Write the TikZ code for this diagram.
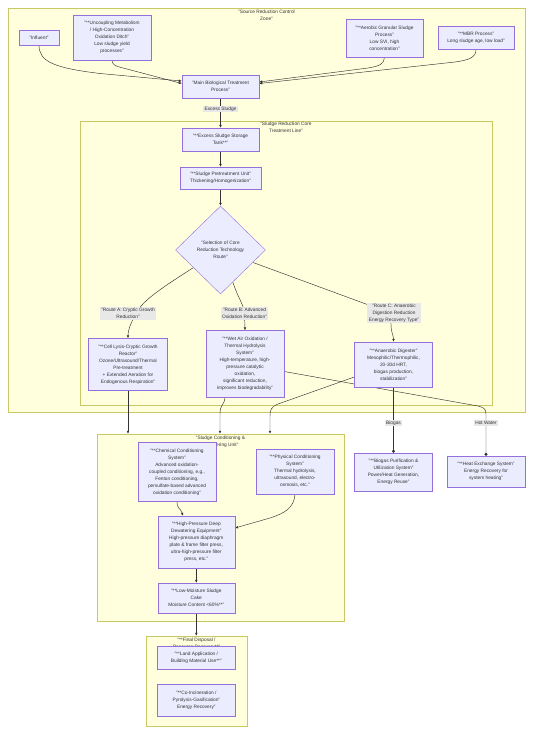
\documentclass[tikz,border=0pt]{standalone}
\usepackage{fontspec}
\setmainfont{Liberation Sans}
\usetikzlibrary{shapes.geometric,arrows.meta}
\definecolor{zfill}{HTML}{FFFFDE}
\definecolor{zdraw}{HTML}{C8C866}
\definecolor{nfill}{HTML}{ECECFF}
\definecolor{ndraw}{HTML}{9370DB}
\definecolor{ink}{HTML}{333333}
\definecolor{lbg}{HTML}{E8E8E8}
\pgfdeclarelayer{bg}
\pgfdeclarelayer{edges}
\pgfsetlayers{bg,edges,main}
\begin{document}
\begin{tikzpicture}[x=1pt,y=-1pt,
  every node/.style={font=\fontsize{4.8}{7}\selectfont, text=ink, align=center, inner sep=0pt},
  zone/.style 2 args={draw=zdraw, fill=zfill, line width=0.45pt, minimum width=#1pt, minimum height=#2pt},
  bx/.style 2 args={draw=ndraw, fill=nfill, line width=0.4pt, minimum width=#1pt, minimum height=#2pt},
  lbl/.style={fill=lbg, inner xsep=1.5pt, inner ysep=1pt},
  conn/.style={draw=ink, line width=0.45pt},
  arr/.style={conn, -{Latex[length=3pt,width=2.6pt]}},
  dotend/.style={conn, -{Circle[length=3pt]}},
]
\useasboundingbox (0,0) rectangle (533,734);

\begin{pgfonlayer}{bg}
\fill[white] (0,0) rectangle (533,734);
\node[zone={517}{404}] (z1) at (266.5,210) {};
\node[zone={412}{284}] (z2) at (286,263) {};
\node[zone={247}{187}] (z3) at (220.5,527.5) {};
\node[zone={101}{90}] (z4) at (196.5,681) {};
\end{pgfonlayer}

% zone titles
\node (t1) at (266.5,15.5) {"Source Reduction Control\\Zone"};
\node (t2) at (286,127.5) {"Sludge Reduction Core\\Treatment Line"};
\node (t3) at (220.5,441.5) {"Sludge Conditioning \&\\Dewatering Unit"};
\node (t4) at (196.5,643.5) {"**Final Disposal /\\Resource Recovery**"};

% nodes
\node[bx={40}{15}] (inf) at (39,37.5) {"Influent"};
\node[bx={78}{45}] (unc) at (112,37.5) {"**Uncoupling Metabolism\\/ High-Concentration\\Oxidation Ditch"\\Low sludge yield\\processes"};
\node[bx={77}{38}] (agr) at (384.5,38) {"**Aerobic Granular Sludge\\Process"\\Low SVI, high\\concentration"};
\node[bx={76}{23}] (mbr) at (476,37.5) {"**MBR Process"\\Long sludge age, low load"};
\node[bx={77}{23}] (main) at (220.5,86.5) {"Main Biological Treatment\\Process"};
\node[lbl] (lex) at (220.5,109) {Excess Sludge};
\node[bx={77}{23}] (sto) at (220.5,139.5) {"**Excess Sludge Storage\\Tank**"};
\node[bx={81}{22}] (pre) at (220.5,178) {"**Sludge Pretreatment Unit"\\Thickening/Homogenization"};
\node[diamond, draw=ndraw, fill=nfill, line width=0.4pt, minimum width=90pt, minimum height=88pt] (dia) at (220.5,250) {"Selection of Core\\Reduction Technology\\Route"};
\node[lbl] (rA) at (128,313.5) {"Route A: Cryptic Growth\\Reduction"};
\node[lbl] (rB) at (244.5,313.5) {"Route B: Advanced\\Oxidation Reduction"};
\node[lbl] (rC) at (394,313) {"Route C: Anaerobic\\Digestion Reduction\\Energy Recovery Type"};
\node[bx={79}{52}] (cell) at (128,364.5) {"**Cell Lysis-Cryptic Growth\\Reactor"\\Ozone/Ultrasound/Thermal\\Pre-treatment\\+ Extended Aeration for\\Endogenous Respiration"};
\node[bx={78}{67}] (wao) at (245,364) {"**Wet Air Oxidation /\\Thermal Hydrolysis\\System"\\High-temperature, high-\\pressure catalytic\\oxidation,\\significant reduction,\\improves biodegradability"};
\node[bx={78}{45}] (ad) at (393.5,364.5) {"**Anaerobic Digester"\\Mesophilic/Thermophilic,\\20-30d HRT,\\biogas production,\\stabilization"};
\node[lbl] (lbio) at (393.5,423) {Biogas};
\node[lbl] (lhot) at (486,423) {Hot Water};
\node[bx={78}{38}] (bp) at (393.5,472) {"**Biogas Purification \&\\Utilization System"\\Power/Heat Generation,\\Energy Reuse"};
\node[bx={78}{31}] (hx) at (486,471.5) {"**Heat Exchange System"\\Energy Recovery for\\system heating"};
\node[bx={78}{59}] (chem) at (177,472) {"**Chemical Conditioning\\System"\\Advanced oxidation-\\coupled conditioning, e.g.,\\Fenton conditioning,\\persulfate-based advanced\\oxidation conditioning"};
\node[bx={78}{45}] (phys) at (295,471.5) {"**Physical Conditioning\\System"\\Thermal hydrolysis,\\ultrasound, electro-\\osmosis, etc."};
\node[bx={77}{52}] (hp) at (196.3,542) {"**High-Pressure Deep\\Dewatering Equipment"\\High-pressure diaphragm\\plate \& frame filter press,\\ultra-high-pressure filter\\press, etc."};
\node[bx={77}{30}] (cake) at (196.3,598) {"**Low-Moisture Sludge\\Cake\\Moisture Content <60\%**"};
\node[bx={78}{23}] (land) at (196.3,658) {"**Land Application /\\Building Material Use**"};
\node[bx={78}{32}] (coi) at (196.3,700) {"**Co-Incineration /\\Pyrolysis-Gasification"\\Energy Recovery"};

\begin{pgfonlayer}{edges}
\draw[arr] (inf.south) .. controls (39,62) and (55,68) .. (100,73.5) -- ([yshift=5.5pt]main.west);
\draw[arr] (unc.south) .. controls (112,64) and (114,66) .. (125,68.5) -- ([yshift=3pt]main.west);
\draw[arr] (agr.south) .. controls (384,64) and (380,66) .. (368,68) -- ([yshift=4.5pt]main.east);
\draw[arr] (mbr.south) .. controls (476,57) and (470,60) .. (455,62) -- ([yshift=3pt]main.east);
\draw[arr] (main.south) -- (sto.north);
\draw[arr] (sto.south) -- (pre.north);
\draw[arr] (pre.south) -- (dia.north);
\draw[arr] (dia.213) .. controls (168,284) and (142,300) .. ([xshift=8pt]rA.center) .. controls (130,325) and (128,330) .. (cell.north);
\draw[arr] (dia.291) .. controls (238,298) and (244,305) .. (rB.center) -- (wao.north);
\draw[arr] (dia.339) -- (370,305.5) .. controls (385,312) and (391,318) .. (391,324) .. controls (391,333) and (393.5,335) .. (ad.north);
\draw[arr] (cell.south) -- (cell.south |- z3.north);
\draw[arr] ([xshift=-20pt]wao.south) .. controls (224,406) and (220,404) .. (220,414) -- ([xshift=-0.5pt]z3.north);
\draw[arr] ([yshift=-12.5pt]ad.west) -- (278,404) .. controls (271,407) and (270,410) .. (270,416) -- ([xshift=49.5pt]z3.north);
\draw[dotend] ([yshift=-7.5pt]wao.east) -- (478,406) .. controls (484,407.5) and (486,409) .. (486,414) -- (hx.north);
\draw[dotend] (ad.south) -- (bp.north);
\draw[arr] (chem.south) .. controls (177,509) and (180.5,508) .. ([xshift=-13.3pt]hp.north);
\draw[arr] (phys.south) .. controls (294,508) and (285,513) .. (270,518) -- ([yshift=14pt]hp.east);
\draw[arr] (hp.south) -- (cake.north);
\draw[arr] (cake.south) -- ([xshift=-0.2pt]z4.north);
\end{pgfonlayer}
\end{tikzpicture}
\end{document}
